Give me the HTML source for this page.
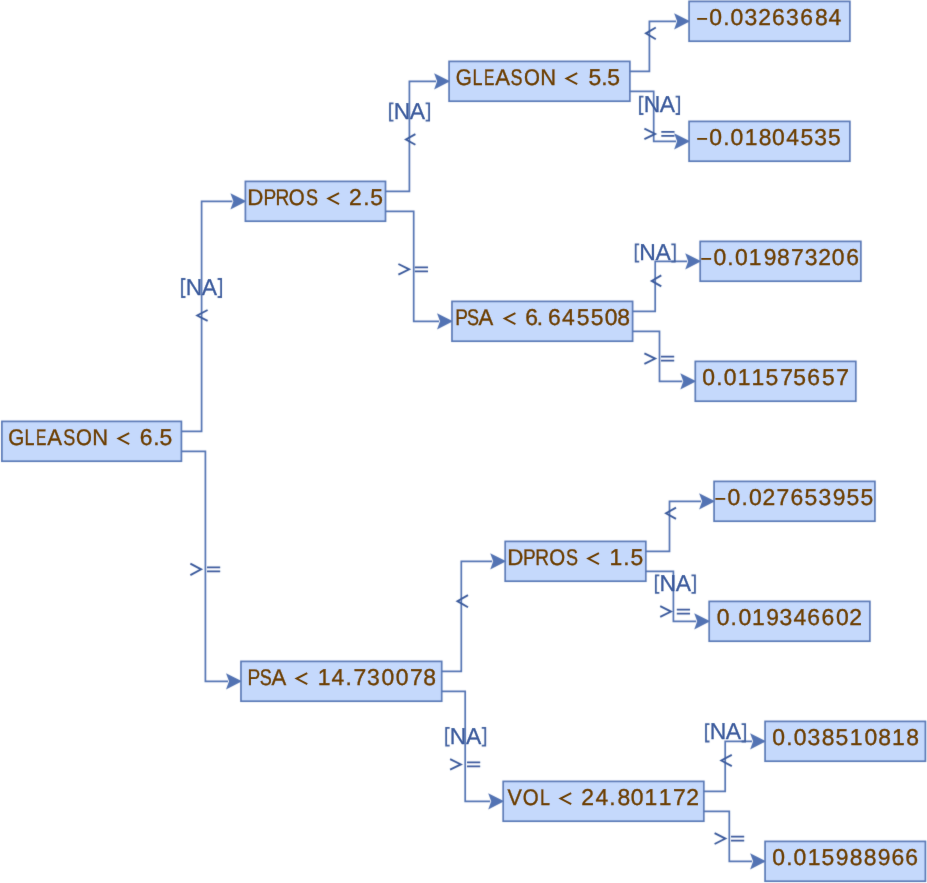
<!DOCTYPE html>
<html><head><meta charset="utf-8"><style>
html,body{margin:0;padding:0;background:#fff;width:927px;height:883px;overflow:hidden}
svg{display:block}
text{font-family:"Liberation Sans",sans-serif;font-kerning:none;font-size:22.65px;text-rendering:geometricPrecision}
.t{fill:#6c3e00;stroke:#6c3e00;stroke-width:0.35}
.d{font-size:22.9px}
.n{fill:#3a5a9c;stroke:#3a5a9c;stroke-width:0.3;font-size:22.9px}
.br{fill:none;stroke:#3f5f9e;stroke-width:1.8}
.e{fill:none;stroke:#5373b3;stroke-width:1.7}
.a{fill:#5373b3;stroke:none}
.b{fill:#c5d9fc;stroke:#5878b6;stroke-width:1.7}
.lt{fill:none;stroke:#6c3e00;stroke-width:1.9;stroke-linejoin:miter}
.g{fill:none;stroke:#3a5a9c;stroke-width:1.85;stroke-linejoin:miter}
.g2{fill:none;stroke:#3a5a9c;stroke-width:1.75}
</style></head><body>
<svg width="927" height="883" viewBox="0 0 927 883">
<defs><filter id="bl" x="0" y="0" width="927" height="883" filterUnits="userSpaceOnUse"><feConvolveMatrix order="3" kernelMatrix="0.0113 0.0838 0.0113 0.0838 0.6193 0.0838 0.0113 0.0838 0.0113" edgeMode="duplicate"/></filter>
<filter id="bt" x="0" y="0" width="927" height="883" filterUnits="userSpaceOnUse"><feConvolveMatrix order="3" kernelMatrix="0.0028 0.0470 0.0028 0.0470 0.8008 0.0470 0.0028 0.0470 0.0028" edgeMode="duplicate"/></filter></defs>
<rect width="927" height="883" fill="#fff"/>
<g filter="url(#bl)">
<path d="M181.4 431.3 H201.6 V201.3 H232.4" class="e"/>
<path d="M246.4 201.3 L230.4 193.2 L233.4 201.3 L230.4 209.4 Z" class="a"/>
<path d="M181.4 451.3 H205.4 V681.3 H228" class="e"/>
<path d="M242 681.3 L226 673.2 L229 681.3 L226 689.4 Z" class="a"/>
<path d="M385.5 191.3 H409.4 V81.3 H436.1" class="e"/>
<path d="M450.1 81.3 L434.1 73.2 L437.1 81.3 L434.1 89.4 Z" class="a"/>
<path d="M385.5 211.3 H413.7 V321.3 H439" class="e"/>
<path d="M453 321.3 L437 313.2 L440 321.3 L437 329.4 Z" class="a"/>
<path d="M441.7 671.3 H461.3 V561.3 H492.2" class="e"/>
<path d="M506.2 561.3 L490.2 553.2 L493.2 561.3 L490.2 569.4 Z" class="a"/>
<path d="M441.7 691.3 H465.2 V801.3 H490.2" class="e"/>
<path d="M504.2 801.3 L488.2 793.2 L491.2 801.3 L488.2 809.4 Z" class="a"/>
<path d="M629.85 71.3 H649.4 V21.3 H676.1" class="e"/>
<path d="M690.1 21.3 L674.1 13.2 L677.1 21.3 L674.1 29.4 Z" class="a"/>
<path d="M629.85 91.3 H653.7 V141.3 H676.1" class="e"/>
<path d="M690.1 141.3 L674.1 133.2 L677.1 141.3 L674.1 149.4 Z" class="a"/>
<path d="M632.6 311.3 H655.2 V261.3 H687.2" class="e"/>
<path d="M701.2 261.3 L685.2 253.2 L688.2 261.3 L685.2 269.4 Z" class="a"/>
<path d="M632.6 331.3 H659.5 V381.3 H682.3" class="e"/>
<path d="M696.3 381.3 L680.3 373.2 L683.3 381.3 L680.3 389.4 Z" class="a"/>
<path d="M645.8 551.3 H669.5 V501.3 H701.1" class="e"/>
<path d="M715.1 501.3 L699.1 493.2 L702.1 501.3 L699.1 509.4 Z" class="a"/>
<path d="M645.8 571.3 H673.4 V621.3 H696.2" class="e"/>
<path d="M710.2 621.3 L694.2 613.2 L697.2 621.3 L694.2 629.4 Z" class="a"/>
<path d="M703.8 791.3 H725.2 V741.3 H752.1" class="e"/>
<path d="M766.1 741.3 L750.1 733.2 L753.1 741.3 L750.1 749.4 Z" class="a"/>
<path d="M703.8 811.3 H729.3 V861.3 H752.1" class="e"/>
<path d="M766.1 861.3 L750.1 853.2 L753.1 861.3 L750.1 869.4 Z" class="a"/>
<rect x="1.9" y="421.4" width="179.5" height="39.8" class="b"/>
<rect x="245.4" y="181.4" width="140.1" height="39.8" class="b"/>
<rect x="241" y="661.4" width="200.7" height="39.8" class="b"/>
<rect x="449.1" y="61.4" width="180.75" height="39.8" class="b"/>
<rect x="452" y="301.4" width="180.6" height="39.8" class="b"/>
<rect x="505.2" y="541.4" width="140.6" height="39.8" class="b"/>
<rect x="503.2" y="781.4" width="200.6" height="39.8" class="b"/>
<rect x="689.1" y="1.4" width="160.75" height="39.8" class="b"/>
<rect x="689.1" y="121.4" width="160.75" height="39.8" class="b"/>
<rect x="700.2" y="241.4" width="160.65" height="39.8" class="b"/>
<rect x="695.3" y="361.4" width="160.5" height="39.8" class="b"/>
<rect x="714.1" y="481.4" width="160.8" height="39.8" class="b"/>
<rect x="709.2" y="601.4" width="160.65" height="39.8" class="b"/>
<rect x="765.1" y="721.4" width="160.3" height="39.8" class="b"/>
<rect x="765.1" y="841.4" width="160.3" height="39.8" class="b"/>
<path d="M185.5 279 H182 V297 H185.5 M217.6 279 H221.1 V297 H217.6" class="br"/>
<path d="M207.6 310 L197.2 315.45 L207.6 320.9" class="g"/>
<path d="M190.36 563.6 L201.16 569.35 L190.36 575.1" class="g"/>
<path d="M207 567.4 H220.2 M207 571.3 H220.2" class="g2"/>
<path d="M393.5 103.4 H390 V120.7 H393.5 M425.6 103.4 H429.1 V120.7 H425.6" class="br"/>
<path d="M415.4 134.1 L405.9 139.45 L415.4 144.8" class="g"/>
<path d="M398.4 264 L409.2 269.35 L398.4 274.7" class="g"/>
<path d="M414.8 267.4 H428 M414.8 271.3 H428" class="g2"/>
<path d="M468 595.1 L457.4 601.15 L468 607.2" class="g"/>
<path d="M449.65 727.9 H446.15 V745.7 H449.65 M481.75 727.9 H485.25 V745.7 H481.75" class="br"/>
<path d="M450.1 759.1 L460.9 764.4 L450.1 769.7" class="g"/>
<path d="M467 762.45 H480.2 M467 766.35 H480.2" class="g2"/>
<path d="M655.8 27.5 L645.9 33.35 L655.8 39.2" class="g"/>
<path d="M643.5 96.7 H640 V114 H643.5 M675.6 96.7 H679.1 V114 H675.6" class="br"/>
<path d="M644.4 128.6 L655.2 133.9 L644.4 139.2" class="g"/>
<path d="M661.3 131.95 H674.5 M661.3 135.85 H674.5" class="g2"/>
<path d="M639.2 244.3 H635.7 V261.7 H639.2 M671.3 244.3 H674.8 V261.7 H671.3" class="br"/>
<path d="M661.3 275.4 L651.7 280.9 L661.3 286.4" class="g"/>
<path d="M644.4 353.3 L655.2 358.6 L644.4 363.9" class="g"/>
<path d="M661 356.65 H674.2 M661 360.55 H674.2" class="g2"/>
<path d="M676 507.6 L666 513.25 L676 518.9" class="g"/>
<path d="M659.35 575.4 H655.85 V592.8 H659.35 M691.45 575.4 H694.95 V592.8 H691.45" class="br"/>
<path d="M660.2 606.2 L671 611.55 L660.2 616.9" class="g"/>
<path d="M676.8 609.6 H690 M676.8 613.5 H690" class="g2"/>
<path d="M709.5 724.2 H706 V741.5 H709.5 M741.6 724.2 H745.1 V741.5 H741.6" class="br"/>
<path d="M731.8 754.9 L721.3 760.5 L731.8 766.1" class="g"/>
<path d="M714.6 833.2 L725.4 838.6 L714.6 844" class="g"/>
<path d="M731 836.65 H744.2 M731 840.55 H744.2" class="g2"/>
</g>
<g filter="url(#bt)">
<text transform="translate(8.16 444.85) scale(0.913 1)" class="t">G</text>
<text transform="translate(24.58 444.85) scale(0.791 1)" class="t">L</text>
<text transform="translate(35.9 444.85) scale(0.688 1)" class="t">E</text>
<text transform="translate(47.13 444.85) scale(0.975 1)" class="t">A</text>
<text transform="translate(63.31 444.85) scale(0.794 1)" class="t">S</text>
<text transform="translate(76.06 444.85) scale(0.902 1)" class="t">O</text>
<text transform="translate(92.28 444.85) scale(0.968 1)" class="t">N</text>
<path d="M129.2 433.05 L118.5 438.55 L129.2 444.05" class="lt"/>
<text x="139.65" y="444.85" class="t d">6</text>
<text x="153.35" y="444.85" class="t">.</text>
<text x="159.4" y="444.85" class="t d">5</text>
<text transform="translate(247.22 204.85) scale(0.984 1)" class="t">D</text>
<text transform="translate(263.41 204.85) scale(0.842 1)" class="t">P</text>
<text transform="translate(275.61 204.85) scale(0.844 1)" class="t">R</text>
<text transform="translate(288.66 204.85) scale(0.902 1)" class="t">O</text>
<text transform="translate(305.96 204.85) scale(0.794 1)" class="t">S</text>
<path d="M339.05 193.05 L328.35 198.55 L339.05 204.05" class="lt"/>
<text x="349.08" y="204.85" class="t d">2</text>
<text x="363.25" y="204.85" class="t">.</text>
<text x="370.3" y="204.85" class="t d">5</text>
<text transform="translate(247.61 684.85) scale(0.842 1)" class="t">P</text>
<text transform="translate(259.86 684.85) scale(0.794 1)" class="t">S</text>
<text transform="translate(271.38 684.85) scale(0.975 1)" class="t">A</text>
<path d="M307.25 673.05 L296.55 678.55 L307.25 684.05" class="lt"/>
<text x="317.72" y="684.85" class="t d">1</text>
<text x="331.4" y="684.85" class="t d">4</text>
<text x="345.55" y="684.85" class="t">.</text>
<text x="353.62" y="684.85" class="t d">7</text>
<text x="367.05" y="684.85" class="t d">3</text>
<text x="381.48" y="684.85" class="t d">0</text>
<text x="395.73" y="684.85" class="t d">0</text>
<text x="409.97" y="684.85" class="t d">7</text>
<text x="423.28" y="684.85" class="t d">8</text>
<text transform="translate(455.86 84.85) scale(0.913 1)" class="t">G</text>
<text transform="translate(472.53 84.85) scale(0.791 1)" class="t">L</text>
<text transform="translate(483.9 84.85) scale(0.688 1)" class="t">E</text>
<text transform="translate(495.13 84.85) scale(0.975 1)" class="t">A</text>
<text transform="translate(510.56 84.85) scale(0.794 1)" class="t">S</text>
<text transform="translate(523.96 84.85) scale(0.902 1)" class="t">O</text>
<text transform="translate(540.28 84.85) scale(0.968 1)" class="t">N</text>
<path d="M577.2 73.05 L566.5 78.55 L577.2 84.05" class="lt"/>
<text x="588.45" y="84.85" class="t d">5</text>
<text x="601.35" y="84.85" class="t">.</text>
<text x="607.35" y="84.85" class="t d">5</text>
<text transform="translate(455.16 324.85) scale(0.842 1)" class="t">P</text>
<text transform="translate(467.11 324.85) scale(0.794 1)" class="t">S</text>
<text transform="translate(478.53 324.85) scale(0.975 1)" class="t">A</text>
<path d="M515.4 313.05 L504.7 318.55 L515.4 324.05" class="lt"/>
<text x="525.35" y="324.85" class="t d">6</text>
<text x="536.85" y="324.85" class="t">.</text>
<text x="547.95" y="324.85" class="t d">6</text>
<text x="561.9" y="324.85" class="t d">4</text>
<text x="576.65" y="324.85" class="t d">5</text>
<text x="590.65" y="324.85" class="t d">5</text>
<text x="604.63" y="324.85" class="t d">0</text>
<text x="617.13" y="324.85" class="t d">8</text>
<text transform="translate(507.17 564.85) scale(0.984 1)" class="t">D</text>
<text transform="translate(523.06 564.85) scale(0.842 1)" class="t">P</text>
<text transform="translate(535.31 564.85) scale(0.844 1)" class="t">R</text>
<text transform="translate(549.21 564.85) scale(0.902 1)" class="t">O</text>
<text transform="translate(565.91 564.85) scale(0.794 1)" class="t">S</text>
<path d="M598.95 553.05 L588.25 558.55 L598.95 564.05" class="lt"/>
<text x="609.62" y="564.85" class="t d">1</text>
<text x="623.25" y="564.85" class="t">.</text>
<text x="630.4" y="564.85" class="t d">5</text>
<text transform="translate(507.38 804.85) scale(0.949 1)" class="t">V</text>
<text transform="translate(522.66 804.85) scale(0.902 1)" class="t">O</text>
<text transform="translate(539.98 804.85) scale(0.791 1)" class="t">L</text>
<path d="M571.2 793.05 L560.5 798.55 L571.2 804.05" class="lt"/>
<text x="581.13" y="804.85" class="t d">2</text>
<text x="595.5" y="804.85" class="t d">4</text>
<text x="609.25" y="804.85" class="t">.</text>
<text x="617.43" y="804.85" class="t d">8</text>
<text x="630.83" y="804.85" class="t d">0</text>
<text x="644.62" y="804.85" class="t d">1</text>
<text x="658.72" y="804.85" class="t d">1</text>
<text x="673.12" y="804.85" class="t d">7</text>
<text x="686.13" y="804.85" class="t d">2</text>
<rect x="697.2" y="18" width="9.9" height="1.8" fill="#6c3e00"/>
<text x="709.33" y="24.85" class="t d">0</text>
<text x="723.35" y="24.85" class="t">.</text>
<text x="730.53" y="24.85" class="t d">0</text>
<text x="744.6" y="24.85" class="t d">3</text>
<text x="758.13" y="24.85" class="t d">2</text>
<text x="771.95" y="24.85" class="t d">6</text>
<text x="785.9" y="24.85" class="t d">3</text>
<text x="800.15" y="24.85" class="t d">6</text>
<text x="814.93" y="24.85" class="t d">8</text>
<text x="828.4" y="24.85" class="t d">4</text>
<rect x="697.2" y="138" width="9.9" height="1.8" fill="#6c3e00"/>
<text x="709.33" y="144.85" class="t d">0</text>
<text x="723.35" y="144.85" class="t">.</text>
<text x="730.53" y="144.85" class="t d">0</text>
<text x="744.82" y="144.85" class="t d">1</text>
<text x="758.73" y="144.85" class="t d">8</text>
<text x="772.03" y="144.85" class="t d">0</text>
<text x="786.3" y="144.85" class="t d">4</text>
<text x="800.5" y="144.85" class="t d">5</text>
<text x="814.35" y="144.85" class="t d">3</text>
<text x="828.1" y="144.85" class="t d">5</text>
<rect x="701.25" y="258" width="9.9" height="1.8" fill="#6c3e00"/>
<text x="713.38" y="264.85" class="t d">0</text>
<text x="727.15" y="264.85" class="t">.</text>
<text x="734.98" y="264.85" class="t d">0</text>
<text x="748.87" y="264.85" class="t d">1</text>
<text x="763.64" y="264.85" class="t d">9</text>
<text x="776.88" y="264.85" class="t d">8</text>
<text x="790.97" y="264.85" class="t d">7</text>
<text x="804.65" y="264.85" class="t d">3</text>
<text x="818.18" y="264.85" class="t d">2</text>
<text x="831.73" y="264.85" class="t d">0</text>
<text x="846.2" y="264.85" class="t d">6</text>
<text x="702.18" y="384.85" class="t d">0</text>
<text x="716.15" y="384.85" class="t">.</text>
<text x="723.73" y="384.85" class="t d">0</text>
<text x="737.87" y="384.85" class="t d">1</text>
<text x="751.62" y="384.85" class="t d">1</text>
<text x="765.45" y="384.85" class="t d">5</text>
<text x="780.17" y="384.85" class="t d">7</text>
<text x="793.25" y="384.85" class="t d">5</text>
<text x="807.35" y="384.85" class="t d">6</text>
<text x="821.9" y="384.85" class="t d">5</text>
<text x="836.32" y="384.85" class="t d">7</text>
<rect x="715.35" y="498" width="9.9" height="1.8" fill="#6c3e00"/>
<text x="727.48" y="504.85" class="t d">0</text>
<text x="741.45" y="504.85" class="t">.</text>
<text x="749.03" y="504.85" class="t d">0</text>
<text x="762.38" y="504.85" class="t d">2</text>
<text x="776.42" y="504.85" class="t d">7</text>
<text x="790.45" y="504.85" class="t d">6</text>
<text x="804.55" y="504.85" class="t d">5</text>
<text x="818.55" y="504.85" class="t d">3</text>
<text x="832.69" y="504.85" class="t d">9</text>
<text x="846.45" y="504.85" class="t d">5</text>
<text x="860.45" y="504.85" class="t d">5</text>
<text x="716.68" y="624.85" class="t d">0</text>
<text x="730.45" y="624.85" class="t">.</text>
<text x="738.48" y="624.85" class="t d">0</text>
<text x="751.92" y="624.85" class="t d">1</text>
<text x="766.24" y="624.85" class="t d">9</text>
<text x="779.6" y="624.85" class="t d">3</text>
<text x="793.6" y="624.85" class="t d">4</text>
<text x="807.2" y="624.85" class="t d">6</text>
<text x="821.45" y="624.85" class="t d">6</text>
<text x="835.93" y="624.85" class="t d">0</text>
<text x="849.28" y="624.85" class="t d">2</text>
<text x="772.18" y="744.85" class="t d">0</text>
<text x="786.15" y="744.85" class="t">.</text>
<text x="793.73" y="744.85" class="t d">0</text>
<text x="807.55" y="744.85" class="t d">3</text>
<text x="821.68" y="744.85" class="t d">8</text>
<text x="835.45" y="744.85" class="t d">5</text>
<text x="849.82" y="744.85" class="t d">1</text>
<text x="864.58" y="744.85" class="t d">0</text>
<text x="878.13" y="744.85" class="t d">8</text>
<text x="892.02" y="744.85" class="t d">1</text>
<text x="906.13" y="744.85" class="t d">8</text>
<text x="772.23" y="864.85" class="t d">0</text>
<text x="786.25" y="864.85" class="t">.</text>
<text x="793.43" y="864.85" class="t d">0</text>
<text x="807.72" y="864.85" class="t d">1</text>
<text x="821.45" y="864.85" class="t d">5</text>
<text x="835.64" y="864.85" class="t d">9</text>
<text x="849.63" y="864.85" class="t d">8</text>
<text x="863.73" y="864.85" class="t d">8</text>
<text x="877.84" y="864.85" class="t d">9</text>
<text x="891.55" y="864.85" class="t d">6</text>
<text x="905.35" y="864.85" class="t d">6</text>
<text x="185.63" y="294.8" class="n" style="font-size:22.9px">N</text>
<text x="201.81" y="294.8" class="n" style="font-size:22.9px">A</text>
<text x="393.63" y="118.5" class="n" style="font-size:22.9px">N</text>
<text x="409.81" y="118.5" class="n" style="font-size:22.9px">A</text>
<text x="449.78" y="743.5" class="n" style="font-size:22.9px">N</text>
<text x="465.96" y="743.5" class="n" style="font-size:22.9px">A</text>
<text x="643.63" y="111.8" class="n" style="font-size:22.9px">N</text>
<text x="659.81" y="111.8" class="n" style="font-size:22.9px">A</text>
<text x="639.33" y="259.5" class="n" style="font-size:22.9px">N</text>
<text x="655.51" y="259.5" class="n" style="font-size:22.9px">A</text>
<text x="659.48" y="590.6" class="n" style="font-size:22.9px">N</text>
<text x="675.66" y="590.6" class="n" style="font-size:22.9px">A</text>
<text x="709.63" y="739.3" class="n" style="font-size:22.9px">N</text>
<text x="725.81" y="739.3" class="n" style="font-size:22.9px">A</text>
</g>
</svg>
</body></html>
